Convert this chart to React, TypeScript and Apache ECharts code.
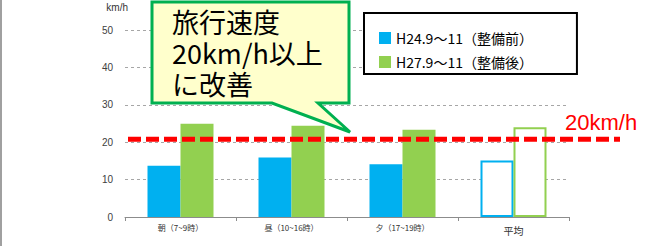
import React, { useEffect, useRef } from "react";
import * as echarts from "echarts";

const categories = ["朝（7~9時）", "昼（10~16時）", "夕（17~19時）", "平均"];
const seriesNames = ["H24.9～11（整備前）", "H27.9～11（整備後）"];
const beforeValues = [13.7, 15.9, 14.1, 15.1];
const afterValues = [24.9, 24.4, 23.3, 24.0];
const yMax = 50;
const yInterval = 10;
const targetLineValue = 20.8;
const targetLabel = "20km/h";
const calloutText = ["旅行速度", "20km/h以上", "に改善"];

const BLUE = "#00B0F0";
const GREEN = "#92D050";
const CJK = "'Noto Sans CJK JP', 'Liberation Sans', sans-serif";

export default function App() {
  const ref = useRef<HTMLDivElement>(null);

  useEffect(() => {
    if (!ref.current) return;
    const chart = echarts.init(ref.current, null, { renderer: "svg" });
    const lastIdx = categories.length - 1;
    const mk = (vals: number[], color: string) =>
      vals.map((v, i) =>
        i === lastIdx
          ? { value: v, itemStyle: { color: "#ffffff", borderColor: color, borderWidth: 2 } }
          : { value: v }
      );

    chart.setOption({
      animation: false,
      textStyle: { fontFamily: CJK },
      grid: { left: 125, right: 97, top: 30, bottom: 29, containLabel: false },
      legend: {
        orient: "vertical",
        left: 364,
        top: 13,
        data: seriesNames,
        icon: "rect",
        itemWidth: 12,
        itemHeight: 12,
        itemGap: 10,
        padding: [18, 44, 5, 15],
        backgroundColor: "#ffffff",
        borderColor: "#000000",
        borderWidth: 2,
        borderRadius: 0,
        textStyle: { fontSize: 14, color: "#000", fontFamily: CJK },
        z: 5,
      },
      xAxis: {
        type: "category",
        data: categories.map((c, i) =>
          i === lastIdx
            ? { value: c, textStyle: { fontSize: 10, padding: [3, 0, 0, 0] } }
            : { value: c }
        ),
        boundaryGap: true,
        axisLine: { lineStyle: { color: "#8c8c8c", width: 1 } },
        axisTick: { show: true, length: 4, lineStyle: { color: "#8c8c8c" } },
        axisLabel: { fontSize: 8, color: "#333", margin: 6, fontFamily: CJK },
      },
      yAxis: {
        type: "value",
        min: 0,
        max: yMax,
        interval: yInterval,
        name: "km/h",
        nameLocation: "end",
        nameGap: 18,
        nameTextStyle: { fontSize: 10, color: "#333", align: "right", padding: [0, -3, 0, 0], fontFamily: "'Liberation Sans', sans-serif" },
        axisLine: { show: false },
        axisTick: { show: false },
        axisLabel: { fontSize: 10, color: "#404040", margin: 12, fontFamily: "'Liberation Sans', sans-serif" },
        splitLine: { lineStyle: { color: "#a6a6a6", type: [3, 3], width: 1 } },
      },
      series: [
        {
          name: seriesNames[0],
          type: "bar",
          data: mk(beforeValues, BLUE),
          itemStyle: { color: BLUE },
          barWidth: 33,
          barGap: "0%",
        },
        {
          name: seriesNames[1],
          type: "bar",
          data: mk(afterValues, GREEN),
          itemStyle: { color: GREEN },
          barWidth: 33,
          barGap: "0%",
        },
      ],
      graphic: [
        {
          type: "rect",
          id: "leftEdge",
          shape: { x: 0, y: 0, width: 2, height: 246 },
          style: { fill: "#a0a0a0" },
          z: 1,
        },
        {
          type: "polygon",
          id: "callout",
          shape: {
            points: [
              [152, 2],
              [349, 2],
              [349, 103],
              [318, 103],
              [350, 132],
              [272, 103],
              [152, 103],
            ],
          },
          style: { fill: "#FFFFCC", stroke: "#00B050", lineWidth: 3, lineJoin: "miter" },
          z: 10,
        },
        ...calloutText.map((t, i) => ({
          type: "text",
          id: "calloutText" + i,
          x: 172,
          y: 8 + i * 31,
          style: {
            text: t,
            fontSize: 27,
            lineHeight: 27,
            fill: "#000",
            fontFamily: CJK,
            verticalAlign: "top",
          },
          z: 11,
        })),
        {
          type: "text",
          id: "targetLabel",
          x: 565,
          y: 111,
          style: {
            text: targetLabel,
            fontSize: 22,
            fill: "#FF0000",
            fontFamily: "'Liberation Sans', sans-serif",
            verticalAlign: "top",
          },
          z: 11,
        },
      ],
    });

    const yPix = chart.convertToPixel({ yAxisIndex: 0 }, targetLineValue) as number;
    chart.setOption({
      graphic: [
        {
          type: "line",
          id: "targetLine",
          shape: { x1: 128, y1: yPix, x2: 620, y2: yPix },
          style: { stroke: "#FF0000", lineWidth: 5, lineDash: [13, 5] },
          z: 12,
        },
      ],
    });

    return () => chart.dispose();
  }, []);

  return (
    <div
      ref={ref}
      style={{ position: "fixed", left: 0, top: 0, width: 666, height: 246, background: "#fff" }}
    />
  );
}
